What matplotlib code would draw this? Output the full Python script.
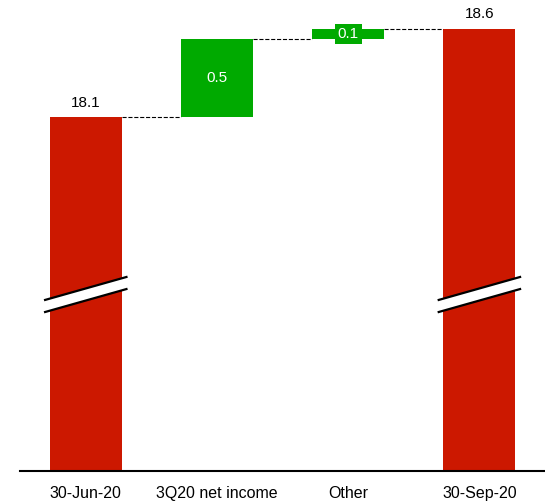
import matplotlib.pyplot as plt
from matplotlib.patches import Polygon

plt.rcParams['font.family'] = ['Liberation Sans', 'DejaVu Sans']

categories = ["30-Jun-20", "3Q20 net income", "Other", "30-Sep-20"]
start_total = 18.08
changes = [0.46, 0.06]
end_total = 18.6

RED = '#cc1800'
GREEN = '#00aa00'
BASE = 16.0  # axis is broken, bars start from this value

fig = plt.figure(figsize=(5.45, 5.04), dpi=100)
ax = fig.add_axes([0.037, 0.0655, 0.963, 0.9345])

# totals
ax.bar(0, start_total - BASE, width=0.55, color=RED)
ax.bar(3, end_total - BASE, width=0.55, color=RED)
ax.text(0, start_total - BASE + 0.045, f"{start_total:.1f}", ha='center', va='bottom', fontsize=11)
ax.text(3, end_total - BASE + 0.045, f"{end_total:.1f}", ha='center', va='bottom', fontsize=11)

# floating steps
level = start_total
for i, ch in enumerate(changes, start=1):
    ax.bar(i, ch, bottom=level - BASE, width=0.55, color=GREEN)
    ax.plot([i - 1 + 0.275, i - 0.275], [level - BASE] * 2, color='black', ls='--', lw=0.8)
    mid = level + ch / 2 - BASE
    if ch > 0.2:
        ax.text(i, mid, f"{ch:.1f}", ha='center', va='center', color='white', fontsize=11)
    else:
        ax.text(i, mid, f"{ch:.1f}", ha='center', va='center', color='white', fontsize=11,
                bbox=dict(boxstyle='square,pad=0.2', fc=GREEN, ec='none'))
    level += ch
ax.plot([2 + 0.275, 3 - 0.275], [level - BASE] * 2, color='black', ls='--', lw=0.8)

# break marks across the total bars
for x in (0, 3):
    lo, gap, rise = 0.935, 0.071, 0.135
    xl, xr = x - 0.31, x + 0.31
    ax.add_patch(Polygon([[xl, lo], [xr, lo + rise], [xr, lo + rise + gap], [xl, lo + gap]],
                         closed=True, fc='white', ec='none', zorder=3))
    ax.plot([xl, xr], [lo, lo + rise], color='black', lw=1.6, zorder=4)
    ax.plot([xl, xr], [lo + gap, lo + rise + gap], color='black', lw=1.6, zorder=4)

ax.set_xlim(-0.5, 3.5)
ax.set_ylim(0, 2.77)
ax.set_xticks(range(4))
ax.set_xticklabels(categories, fontsize=11.5)
ax.tick_params(axis='x', length=0, pad=11)
ax.set_yticks([])
for s in ('top', 'right', 'left'):
    ax.spines[s].set_visible(False)
ax.spines['bottom'].set_linewidth(1.5)

fig.savefig('out.png', dpi=100)
